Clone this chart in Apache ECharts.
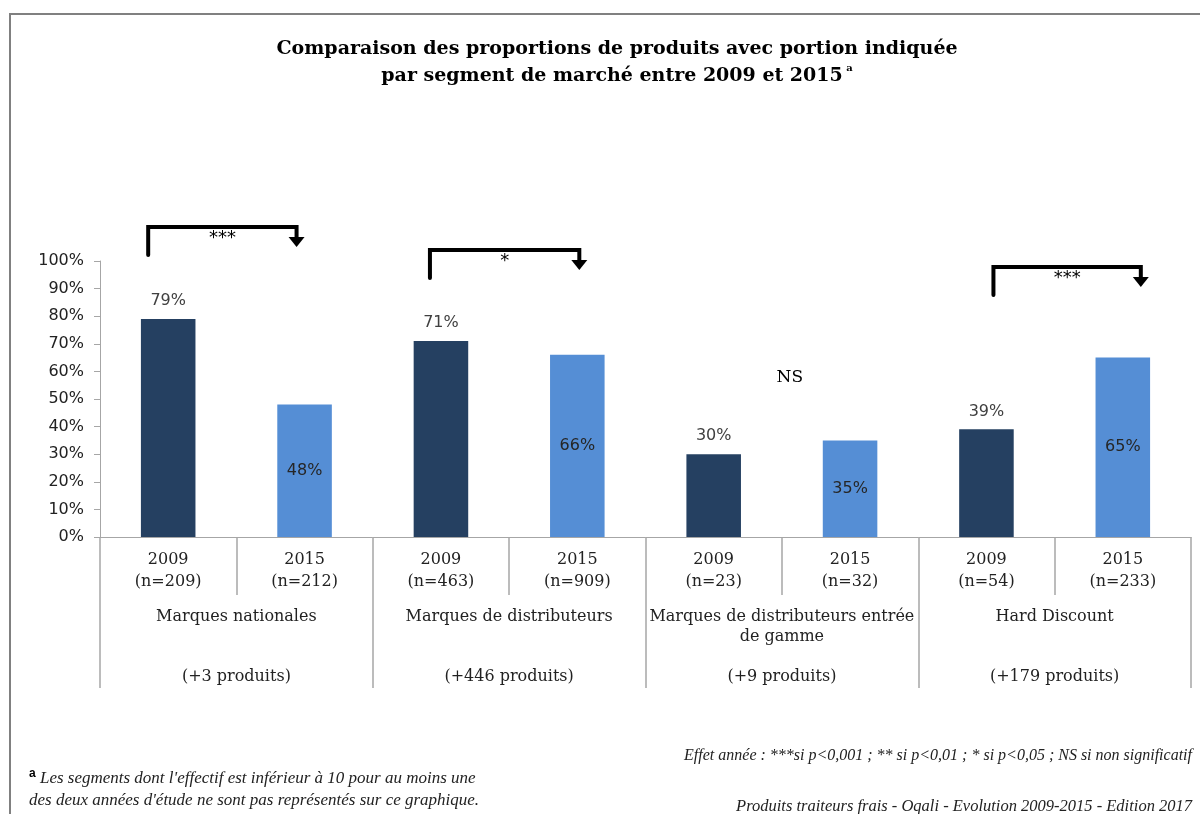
<!DOCTYPE html>
<html>
<head>
<meta charset="utf-8">
<script src="https://cdn.jsdelivr.net/npm/echarts@6/dist/echarts.min.js"></script>
<style>
html,body{margin:0;padding:0;background:#fff;}
#chart{width:1200px;height:814px;}
</style>
</head>
<body>
<div id="chart"></div>
<script>
// ---- data ----
const categories = ['2009\n(n=209)', '2015\n(n=212)', '2009\n(n=463)', '2015\n(n=909)',
                    '2009\n(n=23)', '2015\n(n=32)', '2009\n(n=54)', '2015\n(n=233)'];
const groups = ['Marques nationales\n\n\n(+3 produits)',
                'Marques de distributeurs\n\n\n(+446 produits)',
                'Marques de distributeurs entrée\nde gamme\n\n(+9 produits)',
                'Hard Discount\n\n\n(+179 produits)'];
const values2009 = [79, null, 71, null, 30, null, 39, null];
const values2015 = [null, 48, null, 66, null, 35, null, 65];
const yTicks = [0, 10, 20, 30, 40, 50, 60, 70, 80, 90, 100];
const sigLabels = ['***', '*', 'NS', '***'];
const sigFrom = [0, 2, 4, 6];
const sigTo = [1, 3, 5, 7];
const sigLevel = [112.3, 104, 57.6, 97.8];

// ---- layout (pixel offsets of annotations, not data) ----
const sigOffsetPx = [[-20, -8], [-11, 2], [8, 8], [7, 18]];

const chart = echarts.init(document.getElementById('chart'));
const serif = 'DejaVu Serif';
const sans = 'DejaVu Sans';
const gray = '#A6A6A6';

const sigData = sigLabels.map((l, i) => [sigFrom[i], sigTo[i], sigLevel[i]]);

chart.setOption({
  backgroundColor: '#fff',
  animation: false,
  graphic: [{
    type: 'rect', shape: {x: 10, y: 14, width: 1400, height: 1000},
    style: {fill: 'none', stroke: '#808080', lineWidth: 2}, silent: true, z: -1
  }],
  title: [{
    text: 'Comparaison des proportions de produits avec portion indiquée\npar segment de marché entre 2009 et 2015{sup| a}',
    left: 612, top: 31, textAlign: 'center',
    textStyle: {fontFamily: serif, fontWeight: 'bold', fontSize: 19, lineHeight: 27, color: '#000',
      rich: {sup: {fontFamily: serif, fontWeight: 'bold', fontSize: 10, verticalAlign: 'top', padding: [0,0,10,0], color: '#000'}}}
  }, {
    text: '{b|a} Les segments dont l\'effectif est inférieur à 10 pour au moins une\ndes deux années d\'étude ne sont pas représentés sur ce graphique.',
    left: 24, top: 763,
    textStyle: {fontFamily: 'Liberation Serif', fontStyle: 'italic', fontSize: 17, lineHeight: 22, color: '#222', fontWeight: 'normal',
      rich: {b: {fontFamily: 'Liberation Sans', fontWeight: 'bold', fontStyle: 'normal', fontSize: 12, verticalAlign: 'top', color: '#000'}}}
  }, {
    text: 'Effet année : ***si p<0,001 ; ** si p<0,01 ; * si p<0,05 ; NS si non significatif',
    right: 3, top: 743,
    textStyle: {fontFamily: 'Liberation Serif', fontStyle: 'italic', fontSize: 16, color: '#222', fontWeight: 'normal'}
  }, {
    text: 'Produits traiteurs frais - Oqali - Evolution 2009-2015 - Edition 2017',
    right: 3, top: 793,
    textStyle: {fontFamily: 'Liberation Serif', fontStyle: 'italic', fontSize: 16.5, color: '#222', fontWeight: 'normal'}
  }],
  grid: {left: 100, right: 9, top: 261, bottom: 277, containLabel: false},
  xAxis: [{
    type: 'category', data: categories, position: 'bottom',
    axisLine: {show: true, lineStyle: {color: gray, width: 1}},
    axisTick: {show: true, interval: 0, length: 58, lineStyle: {color: gray, width: 1.5}},
    axisLabel: {interval: 0, margin: 12, fontFamily: serif, fontSize: 16, lineHeight: 22, color: '#222'}
  }, {
    type: 'category', data: groups, position: 'bottom', offset: 0,
    axisLine: {show: false},
    axisTick: {show: true, interval: 0, length: 151, lineStyle: {color: gray, width: 1.5}},
    axisLabel: {interval: 0, margin: 70, fontFamily: serif, fontSize: 16, lineHeight: 20, color: '#222'}
  }],
  yAxis: {
    type: 'value', min: 0, max: 100, interval: 10,
    axisLine: {show: true, lineStyle: {color: gray, width: 1}},
    axisTick: {show: true, length: 6, lineStyle: {color: gray}},
    splitLine: {show: false},
    axisLabel: {formatter: v => yTicks.includes(v) ? v + '%' : '', margin: 16, fontFamily: sans, fontSize: 16, color: '#222'}
  },
  series: [{
    name: '2009', type: 'bar', data: values2009, barWidth: '40%', barGap: '-100%',
    itemStyle: {color: '#254061'},
    label: {show: true, position: 'top', distance: 10, formatter: '{c}%', fontFamily: sans, fontSize: 16, color: '#404040'}
  }, {
    name: '2015', type: 'bar', data: values2015, barWidth: '40%', barGap: '-100%',
    itemStyle: {color: '#558ED5'},
    label: {show: true, position: 'inside', formatter: '{c}%', fontFamily: sans, fontSize: 16, color: '#262626'}
  }, {
    type: 'custom', data: sigData, clip: false, z: 10,
    renderItem: function (params, api) {
      const i = params.dataIndex;
      const lbl = sigLabels[i];
      const off = sigOffsetPx[i];
      const p1 = api.coord([api.value(0), api.value(2)]);
      const p2 = api.coord([api.value(1), api.value(2)]);
      const y = p1[1];
      if (lbl === 'NS') {
        const x = (p1[0] + p2[0]) / 2 + off[0];
        return {type: 'text', style: {text: lbl, x: x, y: y, align: 'center', verticalAlign: 'middle',
          font: '17px "DejaVu Serif"', fill: '#000'}};
      }
      const xl = p1[0] + off[0], xr = p2[0] + off[1];
      return {type: 'group', children: [
        {type: 'polyline', shape: {points: [[xl, y + 28], [xl, y], [xr, y], [xr, y + 12]]},
          style: {stroke: '#000', lineWidth: 4, fill: 'none', lineJoin: 'miter', lineCap: 'round'}},
        {type: 'polygon', shape: {points: [[xr - 8, y + 10], [xr + 8, y + 10], [xr, y + 20]]},
          style: {fill: '#000'}},
        {type: 'text', style: {text: lbl, x: (xl + xr) / 2, y: y + 11, align: 'center', verticalAlign: 'middle',
          font: '18px "DejaVu Sans"', fill: '#000'}}
      ]};
    }
  }]
});
</script>
</body>
</html>
